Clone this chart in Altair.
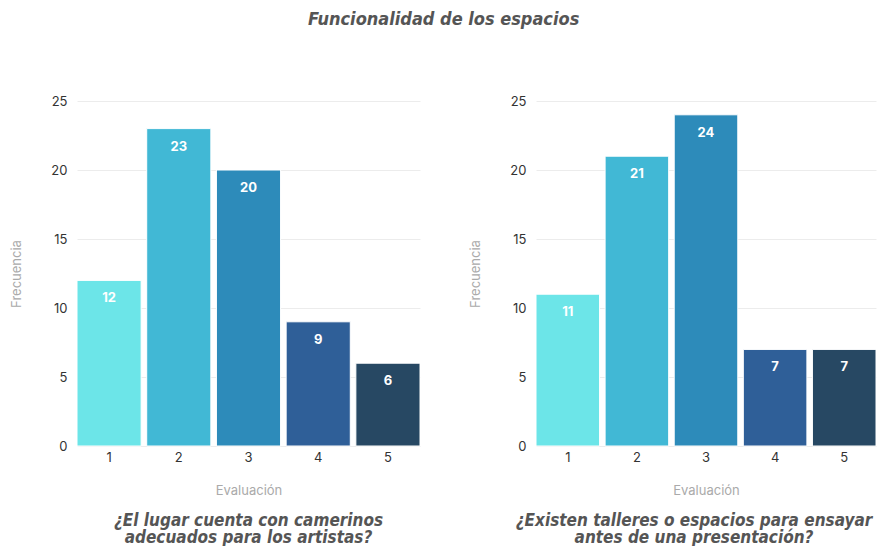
import altair as alt
import pandas as pd

evaluacion = [1, 2, 3, 4, 5]
frec_camerinos = [12, 23, 20, 9, 6]
frec_talleres = [11, 21, 24, 7, 7]
colores = ["#6ce5e8", "#41b8d5", "#2d8bba", "#2f5f98", "#274863"]
titulo = "Funcionalidad de los espacios"
sub_izq = ["¿El lugar cuenta con camerinos", "adecuados para los artistas?"]
sub_der = ["¿Existen talleres o espacios para ensayar", "antes de una presentación?"]

TITLE_FONT = "DejaVu Sans Condensed, DejaVu Sans"
AXIS_FONT = "Inter"


def panel(valores, subtitulo, w, dx):
    df = pd.DataFrame({"Evaluación": evaluacion, "Frecuencia": valores})
    base = alt.Chart(df).encode(
        x=alt.X("Evaluación:O",
                scale=alt.Scale(paddingInner=0.08, paddingOuter=0),
                axis=alt.Axis(labelAngle=0, title="Evaluación", ticks=False,
                              domain=False, labelPadding=5, titlePadding=20,
                              labelFont=AXIS_FONT, labelFontSize=13, labelColor="#333",
                              titleFont=AXIS_FONT, titleFontSize=13, titleColor="#aaa",
                              titleFontWeight="normal")),
    )
    bars = base.mark_bar(stroke="white", strokeWidth=1).encode(
        y=alt.Y("Frecuencia:Q",
                scale=alt.Scale(domain=[0, 25], nice=False),
                axis=alt.Axis(values=[0, 5, 10, 15, 20, 25], ticks=False, domain=False,
                              title="Frecuencia", labelPadding=10, titlePadding=27,
                              gridColor="#ececec",
                              labelFont=AXIS_FONT, labelFontSize=13, labelColor="#333",
                              titleFont=AXIS_FONT, titleFontSize=13, titleColor="#aaa",
                              titleFontWeight="normal")),
        color=alt.Color("Evaluación:O", scale=alt.Scale(domain=evaluacion, range=colores),
                        legend=None),
    )
    labels = base.mark_text(color="white", fontWeight="bold", font=AXIS_FONT,
                            fontSize=13, baseline="middle", dy=18).encode(
        y=alt.Y("Frecuencia:Q"),
        text=alt.Text("Frecuencia:Q"),
    )
    return alt.layer(bars, labels).properties(
        width=w, height=345,
        title=alt.TitleParams(subtitulo, orient="bottom", anchor="middle", frame="group",
                              font=TITLE_FONT, fontSize=17, fontStyle="italic",
                              fontWeight="bold", color="#555", offset=16, lineHeight=17,
                              dx=dx),
    )


chart = alt.hconcat(
    panel(frec_camerinos, sub_izq, 343, 0),
    panel(frec_talleres, sub_der, 340, -12),
    spacing=48,
).properties(
    title=alt.TitleParams(titulo, anchor="middle", font=TITLE_FONT, fontSize=18,
                          fontStyle="italic", fontWeight="bold", color="#555", offset=66),
    padding={"left": 2, "top": 3, "right": 0, "bottom": 0},
).configure_view(stroke=None)

chart.save("out.html", embed_options={"renderer": "svg", "actions": False})
